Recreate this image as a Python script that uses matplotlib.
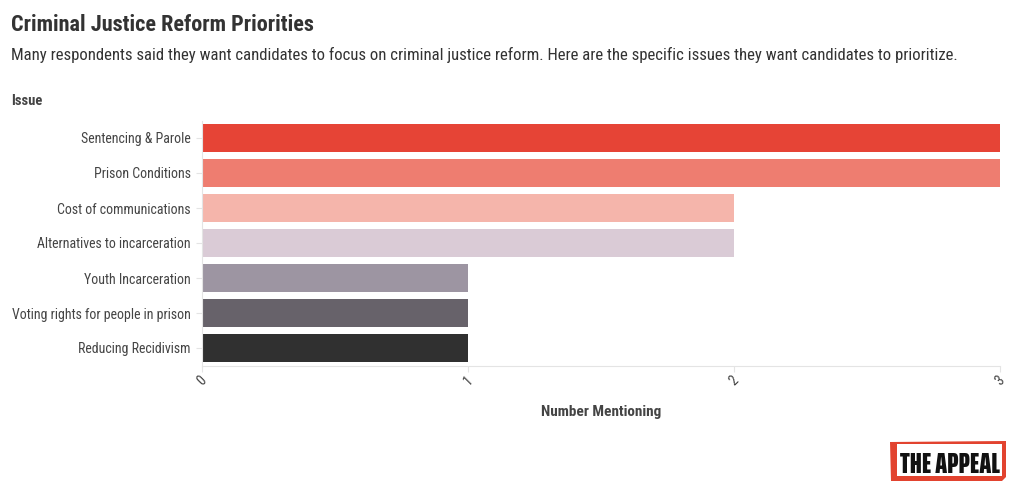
import matplotlib
matplotlib.use("Agg")
import matplotlib.pyplot as plt
from matplotlib.patches import Rectangle, Polygon

# ---- data ----
issues = [
    "Sentencing & Parole",
    "Prison Conditions",
    "Cost of communications",
    "Alternatives to incarceration",
    "Youth Incarceration",
    "Voting rights for people in prison",
    "Reducing Recidivism",
]
mentions = [3, 3, 2, 2, 1, 1, 1]
bar_colors = ["#e64436", "#ee7d70", "#f5b5ab", "#dacbd6", "#9d95a2", "#67626a", "#303030"]
x_ticks = [0, 1, 2, 3]
x_tick_labels = ["0", "1", "2", "3"]

title = "Criminal Justice Reform Priorities"
subtitle = ("Many respondents said they want candidates to focus on criminal justice reform. "
            "Here are the specific issues they want candidates to prioritize.")

FONT = "Roboto Condensed"
W, H = 1020, 497
fig = plt.figure(figsize=(W / 100, H / 100), dpi=100)
fig.patch.set_facecolor("white")

def fx(px):
    return px / W

def fy(py):
    return 1 - py / H

ax_left, ax_right, ax_top, ax_bottom = 202, 1000, 120.5, 365.5
ax = fig.add_axes([fx(ax_left), fy(ax_bottom), fx(ax_right - ax_left), (ax_bottom - ax_top) / H])

ypos = list(range(len(issues)))
ax.barh(ypos, mentions, height=0.8, color=bar_colors, zorder=2)
ax.set_ylim(len(issues) - 0.5, -0.5)
ax.set_xlim(0, 3)
ax.set_yticks(ypos)
ax.set_yticklabels(issues, fontfamily=FONT, fontsize=10, color="#444444")
ax.set_xticks(x_ticks)
ax.set_xticklabels(x_tick_labels, fontfamily=FONT, fontsize=10, color="#444444",
                   rotation=45, ha="center", va="top")

for s in ["top", "right"]:
    ax.spines[s].set_visible(False)
for s in ["left", "bottom"]:
    ax.spines[s].set_color("#e4e4e4")
    ax.spines[s].set_linewidth(0.8)
ax.tick_params(axis="y", length=4, width=0.8, color="#e4e4e4", pad=4)
ax.tick_params(axis="x", length=4, width=0.8, color="#e4e4e4", pad=2)

ax.set_xlabel("Number Mentioning", fontfamily=FONT, fontweight="bold", fontsize=11,
              color="#444444", labelpad=12)

# ---- titles ----
fig.text(fx(11), fy(31), title, fontfamily=FONT, fontweight="bold", fontsize=16,
         color="#333333", ha="left", va="baseline")
fig.text(fx(11), fy(60), subtitle, fontfamily=FONT, fontsize=12.1,
         color="#333333", ha="left", va="baseline")
fig.text(fx(11), fy(105), "Issue", fontfamily=FONT, fontweight="bold", fontsize=10.5,
         color="#444444", ha="left", va="baseline")

# ---- logo ----
red = "#e2432f"
pts = [(890, 442), (1006, 441), (1006, 477), (1002, 481), (891, 481)]
fig.patches.append(Polygon([(fx(x), fy(y)) for x, y in pts], closed=True,
                           transform=fig.transFigure, facecolor=red, edgecolor="none"))
fig.patches.append(Rectangle((fx(897), fy(476)), fx(105), (476 - 444) / H,
                             transform=fig.transFigure, facecolor="white", edgecolor="none"))
fig.text(fx(950), fy(473), "THE APPEAL", fontfamily="Saira ExtraCondensed", fontweight="black",
         fontsize=20, color="#111111", ha="center", va="baseline")

fig.savefig("out.png", dpi=100, facecolor="white")
